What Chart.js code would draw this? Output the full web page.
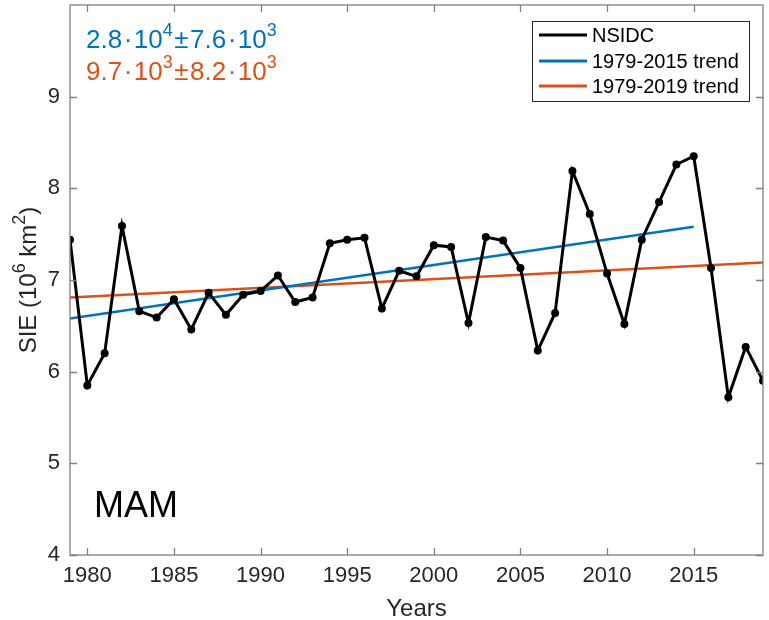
<!DOCTYPE html>
<html>
<head>
<meta charset="utf-8">
<script src="https://cdn.jsdelivr.net/npm/chart.js@4.4.0/dist/chart.umd.min.js"></script>
<style>
  html, body { margin: 0; padding: 0; background: #fff; }
  #wrap { width: 769px; height: 620px; position: relative; }
</style>
</head>
<body>
<div id="wrap"><canvas id="sie"></canvas></div>
<script>
// years and NSIDC spring (MAM) sea ice extent, 10^6 km^2
const years = [1979,1980,1981,1982,1983,1984,1985,1986,1987,1988,1989,1990,1991,1992,1993,1994,1995,1996,1997,1998,1999,
  2000,2001,2002,2003,2004,2005,2006,2007,2008,2009,2010,2011,2012,2013,2014,2015,2016,2017,2018,2019];
const sie = [7.44,5.85,6.20,7.59,6.66,6.59,6.79,6.46,6.86,6.62,6.84,6.88,7.05,6.76,6.81,7.40,7.44,7.46,6.69,7.10,7.04,
  7.38,7.36,6.53,7.47,7.43,7.13,6.23,6.64,8.19,7.72,7.07,6.52,7.44,7.85,8.26,8.35,7.13,5.72,6.27,5.90];

// trend line end points
const trendYears1 = [1979, 2015];
const trendVals1  = [6.58, 7.58];
const trendYears2 = [1979, 2019];
const trendVals2  = [6.81, 7.19];

const xTicks = [1980,1985,1990,1995,2000,2005,2010,2015];
const yTicks = [4,5,6,7,8,9];
const seriesLabels = ['NSIDC', '1979-2015 trend', '1979-2019 trend'];

const FONT = '"Liberation Sans", Arial, Helvetica, sans-serif';
const TXT = '#262626';
const AXC = '#7f7f7f';
const BLUE = '#0072BD';
const ORANGE = '#D95319';

const pts = (xs, ys) => xs.map((x, i) => ({ x: x, y: ys[i] }));

// text with superscripts: parts = [[text, isSup, gapAfter], ...]
function drawSup(ctx, parts, x, y, size, color, ratio){
  ratio = ratio || 0.7;
  ctx.fillStyle = color;
  ctx.textBaseline = 'alphabetic';
  ctx.textAlign = 'left';
  let cx = x;
  parts.forEach(p => {
    ctx.font = (p[1] ? Math.round(size * ratio) : size) + 'px ' + FONT;
    ctx.fillText(p[0], cx, p[1] ? y - size * 0.45 : y);
    cx += ctx.measureText(p[0]).width + (p[2] || 0);
  });
  return cx - x;
}
function supWidth(ctx, parts, size, ratio){
  ratio = ratio || 0.7;
  let w = 0;
  parts.forEach(p => {
    ctx.font = (p[1] ? Math.round(size * ratio) : size) + 'px ' + FONT;
    w += ctx.measureText(p[0]).width + (p[2] || 0);
  });
  return w;
}

const decor = {
  id: 'decor',
  afterDatasetsDraw(chart){
    const ctx = chart.ctx;
    const a = chart.chartArea;
    const xs = chart.scales.x, ys = chart.scales.y;
    ctx.save();

    // box + inward ticks on all four sides
    ctx.strokeStyle = AXC;
    ctx.lineWidth = 1.3;
    ctx.strokeRect(a.left, a.top, a.right - a.left, a.bottom - a.top);
    ctx.beginPath();
    xTicks.forEach(v => {
      const px = Math.round(xs.getPixelForValue(v)) + 0.5;
      ctx.moveTo(px, a.bottom); ctx.lineTo(px, a.bottom - 7);
      ctx.moveTo(px, a.top); ctx.lineTo(px, a.top + 7);
    });
    yTicks.forEach(v => {
      const py = Math.round(ys.getPixelForValue(v)) + 0.5;
      ctx.moveTo(a.left, py); ctx.lineTo(a.left + 7, py);
      ctx.moveTo(a.right, py); ctx.lineTo(a.right - 7, py);
    });
    ctx.stroke();

    // legend box
    const lx = 532, ly = 21, lw = 217, lh = 80;
    ctx.fillStyle = '#fff';
    ctx.fillRect(lx, ly, lw, lh);
    ctx.strokeStyle = '#262626';
    ctx.lineWidth = 1;
    ctx.strokeRect(lx + 0.5, ly + 0.5, lw, lh);
    const rows = [35, 61, 86];
    chart.data.datasets.forEach((ds, i) => {
      ctx.strokeStyle = ds.borderColor;
      ctx.lineWidth = 3;
      ctx.beginPath();
      ctx.moveTo(539, rows[i]); ctx.lineTo(587, rows[i]);
      ctx.stroke();
      ctx.fillStyle = '#000';
      ctx.font = '20px ' + FONT;
      ctx.textBaseline = 'middle';
      ctx.textAlign = 'left';
      ctx.fillText(ds.label, 592, rows[i] + 1);
    });

    // trend annotations
    const g = 1.5;
    drawSup(ctx, [['2.8', 0, g], ['\u00b7', 0, g], ['10', 0], ['4', 1, g], ['\u00b1', 0, g],
      ['7.6', 0, g], ['\u00b7', 0, g], ['10', 0], ['3', 1]], 86, 48, 26, BLUE);
    drawSup(ctx, [['9.7', 0, g], ['\u00b7', 0, g], ['10', 0], ['3', 1, g], ['\u00b1', 0, g],
      ['8.2', 0, g], ['\u00b7', 0, g], ['10', 0], ['3', 1]], 86, 80, 26, ORANGE);

    // season label
    ctx.fillStyle = '#000';
    ctx.font = '36px ' + FONT;
    ctx.textAlign = 'left';
    ctx.textBaseline = 'alphabetic';
    ctx.fillText('MAM', 94, 517);

    // axis titles
    ctx.fillStyle = TXT;
    ctx.font = '24px ' + FONT;
    ctx.textAlign = 'center';
    ctx.fillText('Years', (a.left + a.right) / 2, 616);

    const yParts = [['SIE (10', 0], ['6', 1], [' km', 0], ['2', 1], [')', 0]];
    const w = supWidth(ctx, yParts, 24, 0.75);
    ctx.translate(36, (a.top + a.bottom) / 2);
    ctx.rotate(-Math.PI / 2);
    drawSup(ctx, yParts, -w / 2, 0, 24, TXT, 0.75);
    ctx.restore();
  }
};

const fitX = s => { s.height = 65; s.paddingLeft = 0; s.paddingRight = 0; };
const fitY = s => { s.width = 70; s.paddingTop = 0; s.paddingBottom = 0; };

new Chart(document.getElementById('sie'), {
  type: 'line',
  data: {
    datasets: [
      { label: seriesLabels[0], data: pts(years, sie), borderColor: '#000', backgroundColor: '#000',
        borderWidth: 3, pointRadius: 4, pointBackgroundColor: '#000', pointBorderWidth: 0, tension: 0, order: 0 },
      { label: seriesLabels[1], data: pts(trendYears1, trendVals1), borderColor: BLUE,
        borderWidth: 2.5, pointRadius: 0, tension: 0, order: 1 },
      { label: seriesLabels[2], data: pts(trendYears2, trendVals2), borderColor: ORANGE,
        borderWidth: 2.5, pointRadius: 0, tension: 0, order: 2 }
    ]
  },
  options: {
    responsive: true,
    maintainAspectRatio: false,
    animation: false,
    layout: { padding: { top: 5, right: 6, left: 0, bottom: 0 } },
    plugins: { legend: { display: false }, tooltip: { enabled: false } },
    scales: {
      x: {
        type: 'linear', min: 1979, max: 2019,
        grid: { display: false, drawTicks: false },
        border: { display: false },
        afterFit: fitX,
        afterBuildTicks: s => { s.ticks = xTicks.map(v => ({ value: v })); },
        ticks: { color: TXT, font: { family: FONT, size: 22 }, padding: 8, maxRotation: 0, autoSkip: false,
          callback: v => String(v) }
      },
      y: {
        min: 4, max: 10,
        grid: { display: false, drawTicks: false },
        border: { display: false },
        afterFit: fitY,
        afterBuildTicks: s => { s.ticks = yTicks.map(v => ({ value: v })); },
        ticks: { color: TXT, font: { family: FONT, size: 22 }, padding: 10, callback: v => String(v) }
      }
    }
  },
  plugins: [decor]
});
</script>
</body>
</html>
